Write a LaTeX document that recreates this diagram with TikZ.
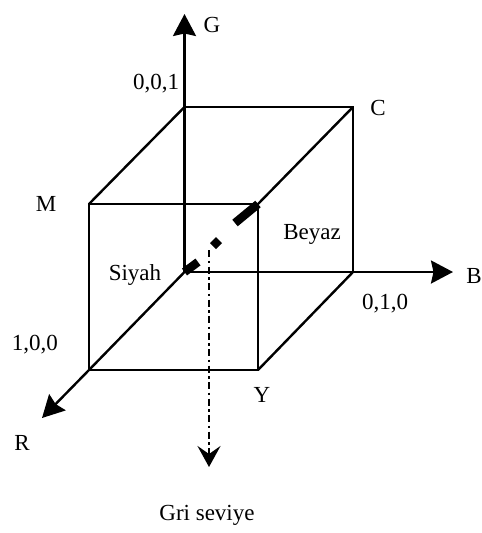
\documentclass[tikz,border=0pt]{standalone}
\usepackage{fontspec}
\setmainfont{Liberation Serif}
\usetikzlibrary{arrows.meta}
\tikzset{
  edge/.style={line width=2.4pt,line cap=round,line join=miter},
  axis/.style={edge,-{Stealth[length=22pt,width=23pt,inset=2.5pt]}},
  gray line/.style={line width=2.4pt,dash pattern=on 7pt off 3.5pt on 2.5pt off 3.5pt,-{Stealth[length=21pt,width=23pt,inset=8pt]}},
  diag/.style={line width=8.5pt},
  lbl/.style={font=\fontsize{23pt}{25pt}\selectfont,inner sep=0pt,text=black}
}
\begin{document}
\begin{tikzpicture}[x=1pt,y=-1pt]
\useasboundingbox (0,0) rectangle (482,533);
\coordinate (O) at (184.5,272);
\coordinate (G0) at (184.5,107);
\coordinate (C) at (353,107);
\coordinate (B0) at (353,272);
\coordinate (M) at (89,204);
\coordinate (W) at (258,204);
\coordinate (Y) at (258,370);
\coordinate (R0) at (89,370);
\coordinate (Gt) at (184.5,14);
\coordinate (Bt) at (453,272);
\coordinate (Rt) at (42,418);
\coordinate (D1) at (198,262);
\coordinate (D2) at (235,223);
\coordinate (S) at (209,250);
\coordinate (E) at (209,467);
\draw[edge] (M) -- (W) -- (Y) -- (R0) -- cycle;
\draw[edge] (G0) -- (C) -- (B0);
\draw[edge] (M) -- (G0);
\draw[edge] (W) -- (C);
\draw[edge] (Y) -- (B0);
\draw[edge] (R0) -- (O);
\draw[axis] (O) -- (Gt);
\draw[axis] (O) -- (Bt);
\draw[axis] (R0) -- (Rt);
\draw[diag] (O) -- (D1);
\draw[diag] (D2) -- (W);
\fill (216,237) -- (222,243) -- (216,249) -- (210,243) -- cycle;
\draw[gray line] (S) -- (E);
\node[lbl] (lG) at (212,25) {G};
\node[lbl] (l001) at (156,84) {0,0,1};
\node[lbl] (lC) at (378,108) {C};
\node[lbl] (lM) at (46,204) {M};
\node[lbl] (lBeyaz) at (312,234) {Beyaz};
\node[lbl] (lSiyah) at (135,275) {Siyah};
\node[lbl] (lB) at (474,276) {B};
\node[lbl] (l010) at (385,304) {0,1,0};
\node[lbl] (l100) at (35,345) {1,0,0};
\node[lbl] (lY) at (262,395) {Y};
\node[lbl] (lR) at (22,443) {R};
\node[lbl] (lGri) at (207,515) {Gri seviye};
\end{tikzpicture}
\end{document}
